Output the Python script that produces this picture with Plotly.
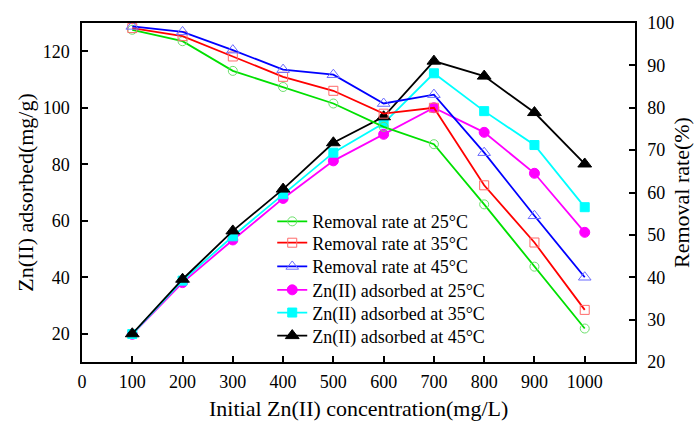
import plotly.graph_objects as go

# Initial Zn(II) concentration (mg/L)
conc = [100, 200, 300, 400, 500, 600, 700, 800, 900, 1000]

# Removal rate (%) at each temperature -> right axis
removal_25 = [98.4, 95.7, 88.7, 84.9, 81.0, 75.5, 71.4, 57.2, 42.5, 27.9]
removal_35 = [98.8, 96.9, 92.1, 87.3, 84.0, 78.6, 80.0, 61.7, 48.2, 32.3]
removal_45 = [99.2, 97.9, 93.6, 89.0, 87.8, 81.0, 83.1, 69.4, 54.5, 40.0]

# Zn(II) adsorbed (mg/g) at each temperature -> left axis
adsorbed_25 = [19.8, 38.1, 53.2, 67.9, 81.2, 90.6, 100.0, 91.3, 76.8, 55.9]
adsorbed_35 = [19.9, 38.8, 54.5, 69.4, 84.1, 94.5, 112.2, 98.8, 86.8, 64.8]
adsorbed_45 = [20.0, 39.3, 56.4, 71.2, 87.6, 96.8, 116.5, 111.2, 98.3, 80.1]

x_ticks = [0, 100, 200, 300, 400, 500, 600, 700, 800, 900, 1000]
left_ticks = [20, 40, 60, 80, 100, 120]
right_ticks = [20, 30, 40, 50, 60, 70, 80, 90, 100]

FONT = "Liberation Serif, Times New Roman, serif"

# name, values, line colour, marker outline colour, symbol, size, y axis
series = [
    ("Removal rate at 25°C", removal_25, "#00e000", "#6ce06c", "circle-open", 9, "y2"),
    ("Removal rate at 35°C", removal_35, "#ff0000", "#ff6a6a", "square-open", 9, "y2"),
    ("Removal rate at 45°C", removal_45, "#0000ff", "#6a6aff", "triangle-up-open", 11, "y2"),
    ("Zn(II) adsorbed at 25°C", adsorbed_25, "#ff00ff", "#ff00ff", "circle", 10, "y"),
    ("Zn(II) adsorbed at 35°C", adsorbed_35, "#00ffff", "#00ffff", "square", 9, "y"),
    ("Zn(II) adsorbed at 45°C", adsorbed_45, "#000000", "#000000", "triangle-up", 12, "y"),
]

# one single-entry legend per series so the rows can sit closer together
legend_ids = ["legend", "legend2", "legend3", "legend4", "legend5", "legend6"]
legend_rows_y = [0.414, 0.351, 0.281, 0.212, 0.145, 0.077]

fig = go.Figure()
for (name, vals, color, mcolor, symbol, size, axis), lid in zip(series, legend_ids):
    fig.add_trace(go.Scatter(
        x=conc, y=vals, name=name, yaxis=axis, legend=lid,
        mode="lines+markers",
        line=dict(color=color, width=1.8),
        marker=dict(symbol=symbol, size=size, color=mcolor,
                    line=dict(color=mcolor, width=1)),
    ))

axis_common = dict(
    showline=True, linecolor="black", linewidth=1.5,
    ticks="inside", ticklen=6, tickwidth=1.5, tickcolor="black",
    automargin=False,
    showgrid=False, zeroline=False,
    tickfont=dict(family=FONT, size=18, color="black"),
)

legend_style = dict(
    xanchor="left", yanchor="middle",
    bgcolor="rgba(0,0,0,0)", borderwidth=0,
    font=dict(family=FONT, size=18, color="black"),
)

fig.update_layout(
    width=694, height=421,
    margin=dict(l=82, r=59, t=23, b=59, autoexpand=False),
    paper_bgcolor="white", plot_bgcolor="white",
    font=dict(family=FONT, color="black"),
    xaxis=dict(
        range=[0, 1100], tickvals=x_ticks, mirror=True,
        ticklabelstandoff=3,
        **axis_common,
    ),
    yaxis=dict(
        range=[10, 130], tickvals=left_ticks,
        ticklabelstandoff=7,
        title=dict(text="Zn(II) adsorbed(mg/g)",
                   font=dict(family=FONT, size=22), standoff=3),
        **axis_common,
    ),
    yaxis2=dict(
        range=[20, 100], tickvals=right_ticks,
        overlaying="y", side="right",
        ticklabelstandoff=7,
        title=dict(text="Removal rate(%)",
                   font=dict(family=FONT, size=22), standoff=6),
        **axis_common,
    ),
    showlegend=True,
)

# x-axis title placed as a paper annotation low in the bottom margin
fig.add_annotation(
    text="Initial Zn(II) concentration(mg/L)",
    xref="paper", yref="paper", x=0.5, y=-0.138,
    xanchor="center", yanchor="middle", showarrow=False,
    font=dict(family=FONT, size=22, color="black"),
)

for lid, ly in zip(legend_ids, legend_rows_y):
    fig.update_layout({lid: dict(x=0.344, y=ly, **legend_style)})

fig.write_html("out.html")
